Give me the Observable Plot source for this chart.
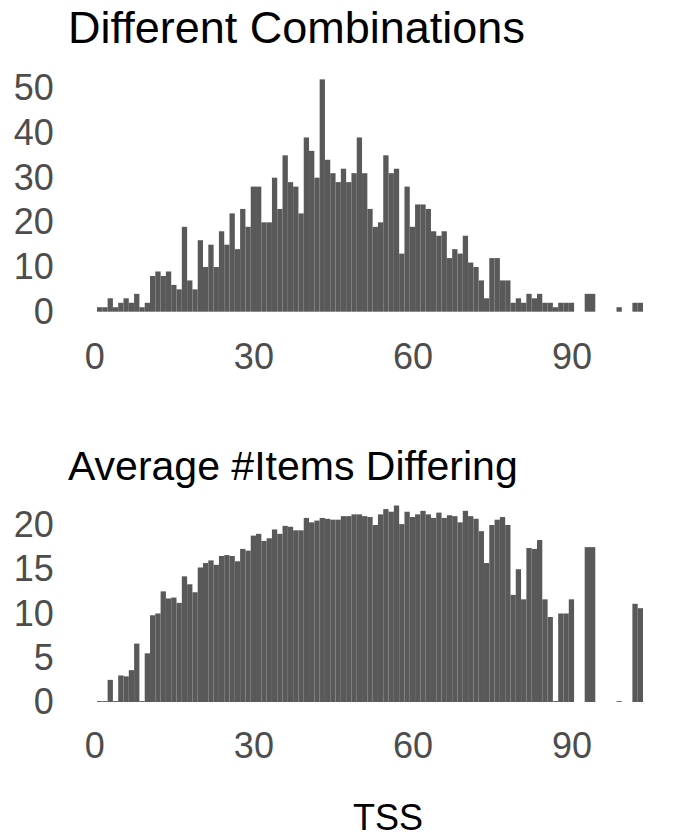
<!DOCTYPE html>
<html><head><meta charset="utf-8">
<script src="https://cdn.jsdelivr.net/npm/d3@7"></script>
<script src="https://cdn.jsdelivr.net/npm/@observablehq/plot@0.6"></script>
<style>
body{margin:0;background:#fff;font-family:"Liberation Sans",Arial,sans-serif;}
#wrap{position:relative;width:673px;height:840px;overflow:hidden;}
.title{position:absolute;left:68px;color:#000;white-space:nowrap;}
.panel{position:absolute;left:0;}
#xlab{position:absolute;left:338px;width:100px;text-align:center;font-size:36px;line-height:36px;color:#000;}
</style></head>
<body><div id="wrap">
<div class="title" id="t1" style="top:5px;font-size:45px;line-height:45px;">Different Combinations</div>
<div class="panel" id="p1" style="top:0px"></div>
<div class="title" id="t2" style="top:446px;font-size:41px;line-height:41px;">Average #Items Differing</div>
<div class="panel" id="p2" style="top:400px"></div>
<div id="xlab" style="top:800px">TSS</div>
</div>
<script>
const tss = [1,2,3,4,5,6,7,8,9,10,11,12,13,14,15,16,17,18,19,20,21,22,23,24,25,26,27,28,29,30,31,32,33,34,35,36,37,38,39,40,41,42,43,44,45,46,47,48,49,50,51,52,53,54,55,56,57,58,59,60,61,62,63,64,65,66,67,68,69,70,71,72,73,74,75,76,77,78,79,80,81,82,83,84,85,86,87,88,89,90,93,94,99,102,103];
const combos = [1,1,3,1,2,3,2,4,1,2,8,9,8,9,6,5,19,7,5,16,10,15,10,18,15,22,14,23,19,28,28,20,20,30,23,35,29,28,22,39,36,30,52,34,31,29,32,29,31,39,31,23,19,20,35,31,32,13,28,19,24,24,23,18,17,18,12,14,13,17,11,10,7,3,12,12,7,7,2,3,2,4,3,4,2,2,1,2,2,2,4,4,1,2,2];
const avgItems = [0.1,0.1,2.5,0.1,3.0,2.9,3.6,6.6,0.1,5.5,9.8,10.0,12.5,11.7,11.8,11.2,14.2,13.3,12.4,15.2,15.7,16.0,15.5,16.5,16.6,16.5,15.9,17.3,17.1,18.8,19.0,18.2,18.5,19.5,19.0,19.9,19.8,19.4,19.4,20.8,20.3,20.5,20.8,20.7,20.6,20.6,21.0,21.0,21.2,21.2,21.0,20.9,20.0,21.2,21.8,21.5,22.2,20.1,21.5,20.9,21.2,21.6,21.2,20.8,21.4,20.8,21.1,21.0,20.3,21.6,21.0,20.7,19.3,15.7,20.0,20.6,20.9,20.0,12.1,15.0,11.6,17.4,17.3,18.3,11.6,9.6,0.1,10.0,10.0,11.6,17.5,17.5,0.1,11.1,10.6];
const xTicks = [0,30,60,90];
const yTicks1 = [0,10,20,30,40,50];
const yTicks2 = [0,5,10,15,20];

const rows = tss.map((t,i) => ({t, c: combos[i], a: avgItems[i]}));
const font = '"Liberation Sans", Arial, sans-serif';
const barFill = "#595959";

function panel(field, yDomain, yTicks, opts) {
  return Plot.plot({
    width: 673, height: opts.height,
    marginLeft: 94.35, marginRight: 22.05,
    marginTop: opts.marginTop, marginBottom: opts.marginBottom,
    style: {fontSize: "36px", fontFamily: font, color: "#4d4d4d", background: "transparent", overflow: "visible"},
    x: {domain: [0, 105], ticks: xTicks, tickSize: 0, tickPadding: opts.xPad, label: null},
    y: {domain: yDomain, ticks: yTicks, tickSize: 0, tickPadding: 41, label: null},
    marks: [
      Plot.rectY(rows, {x1: d => d.t - 0.5, x2: d => d.t + 0.5, y: field, fill: barFill, inset: 0})
    ]
  });
}

document.getElementById("p1").appendChild(panel("c", [0, 53], yTicks1, {height: 390, marginTop: 74.9, marginBottom: 78.3, xPad: 31}));
document.getElementById("p2").appendChild(panel("a", [0, 23], yTicks2, {height: 380, marginTop: 98.45, marginBottom: 78, xPad: 30}));
</script>
</body></html>
